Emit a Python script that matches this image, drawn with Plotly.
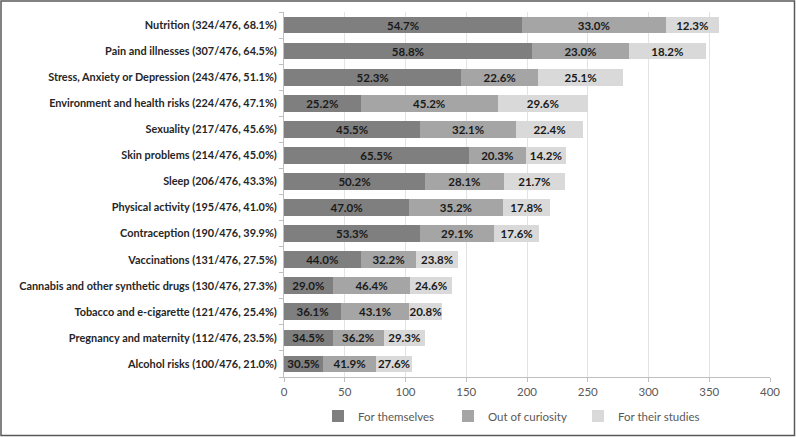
import plotly.graph_objects as go

categories = [
    "Nutrition (324/476, 68.1%)",
    "Pain and illnesses (307/476, 64.5%)",
    "Stress, Anxiety or Depression (243/476, 51.1%)",
    "Environment and health risks (224/476, 47.1%)",
    "Sexuality (217/476, 45.6%)",
    "Skin problems (214/476, 45.0%)",
    "Sleep (206/476, 43.3%)",
    "Physical activity (195/476, 41.0%)",
    "Contraception (190/476, 39.9%)",
    "Vaccinations (131/476, 27.5%)",
    "Cannabis and other synthetic drugs (130/476, 27.3%)",
    "Tobacco and e-cigarette (121/476, 25.4%)",
    "Pregnancy and maternity (112/476, 23.5%)",
    "Alcohol risks (100/476, 21.0%)",
]

for_themselves = [196, 204, 146, 63, 112, 152, 116, 103, 112, 63, 40, 47, 40, 32]
out_of_curiosity = [118, 80, 63, 113, 79, 47, 65, 77, 61, 46, 64, 56, 42, 44]
for_their_studies = [44, 63, 70, 74, 55, 33, 50, 39, 37, 34, 34, 27, 34, 29]

pct_themselves = ["54.7%", "58.8%", "52.3%", "25.2%", "45.5%", "65.5%", "50.2%",
                  "47.0%", "53.3%", "44.0%", "29.0%", "36.1%", "34.5%", "30.5%"]
pct_curiosity = ["33.0%", "23.0%", "22.6%", "45.2%", "32.1%", "20.3%", "28.1%",
                 "35.2%", "29.1%", "32.2%", "46.4%", "43.1%", "36.2%", "41.9%"]
pct_studies = ["12.3%", "18.2%", "25.1%", "29.6%", "22.4%", "14.2%", "21.7%",
               "17.8%", "17.6%", "23.8%", "24.6%", "20.8%", "29.3%", "27.6%"]

series = [
    ("For themselves", for_themselves, pct_themselves, "#7f7f7f"),
    ("Out of curiosity", out_of_curiosity, pct_curiosity, "#a5a5a5"),
    ("For their studies", for_their_studies, pct_studies, "#d9d9d9"),
]

FONT = "Lato, 'Open Sans', sans-serif"

fig = go.Figure()
for name, vals, txt, col in series:
    fig.add_trace(go.Bar(
        y=categories, x=vals, name=name, orientation="h",
        marker=dict(color=col, line=dict(width=0)),
        text=txt, textposition="inside", insidetextanchor="middle",
        textangle=0, constraintext="none",
        textfont=dict(family=FONT, size=11.5, color="#1a1a1a", weight="bold"),
        hoverinfo="x+y+name",
    ))

L, R, T, B = 284, 26, 12, 60
W, H = 796, 437
pw, ph = W - L - R, H - T - B

fig.update_layout(
    width=W, height=H,
    barmode="stack", bargap=0.36,
    plot_bgcolor="white", paper_bgcolor="white",
    margin=dict(l=L, r=R, t=T, b=B, pad=0, autoexpand=False),
    font=dict(family=FONT, size=11, color="#595959"),
    xaxis=dict(
        range=[0, 400], dtick=50, tick0=0,
        showgrid=True, gridcolor="#e3e3e3", gridwidth=1,
        showline=True, linecolor="#bfbfbf", linewidth=1,
        ticks="outside", ticklen=4, tickcolor="#bfbfbf",
        tickfont=dict(family=FONT, size=11.5, color="#595959"),
        zeroline=False, fixedrange=True, automargin=False,
    ),
    yaxis=dict(
        categoryorder="array", categoryarray=categories[::-1],
        autorange=False, range=[-0.5, len(categories) - 0.5],
        showline=True, linecolor="#bfbfbf", linewidth=1,
        ticks="outside", ticklen=4, tickcolor="#bfbfbf", tickson="boundaries",
        tickfont=dict(family=FONT, size=10.9, color="#262626", weight="bold"),
        ticklabelstandoff=4,
        showgrid=False, fixedrange=True, automargin=False,
    ),
    legend=dict(
        orientation="h", x=(318 - L) / pw, xanchor="left",
        y=-(416 - (H - B)) / ph, yanchor="middle",
        font=dict(family=FONT, size=11.5, color="#595959"),
        traceorder="normal", itemwidth=30, entrywidth=85,
        bgcolor="rgba(0,0,0,0)",
    ),
    showlegend=True,
)

# outer border of the chart
fig.add_shape(
    type="rect", xref="paper", yref="paper",
    x0=(1 - L) / pw, x1=(W - 1.5 - L) / pw,
    y0=-(H - 1.5 - (H - B)) / ph, y1=(H - B - 1) / ph,
    line=dict(color="#595959", width=1.5), fillcolor="rgba(0,0,0,0)",
    layer="above",
)

fig.write_html(
    "out.html",
    config={"displayModeBar": False},
    post_script="document.body.style.margin='0';document.body.style.overflow='hidden';",
)
